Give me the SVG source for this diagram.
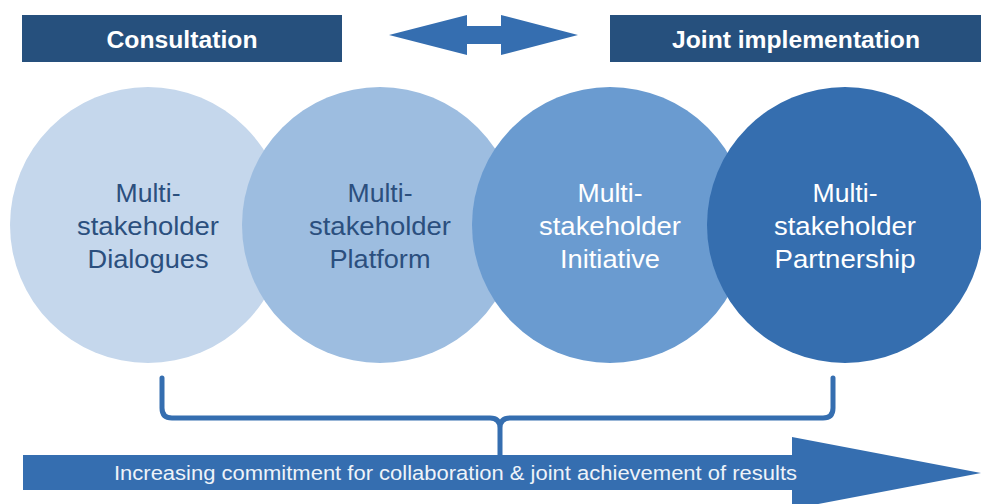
<svg xmlns="http://www.w3.org/2000/svg" width="981" height="504" viewBox="0 0 981 504">
<style>
.hdr{fill:#26507d}
.hdrt{font-family:"Liberation Sans",Arial,sans-serif;font-weight:bold;font-size:23px;fill:#ffffff;text-anchor:middle}
.ct{font-family:"Liberation Sans",Arial,sans-serif;font-size:25px;text-anchor:middle}
.dark{fill:#2b4f7e}
.light{fill:#ffffff}
.arrow{fill:#356eb0}
.brace{fill:none;stroke:#356eb0;stroke-width:5;stroke-linecap:round;stroke-linejoin:round}
.bt{font-family:"Liberation Sans",Arial,sans-serif;font-size:20px;fill:#eef3f9;text-anchor:start}
</style>
<rect width="981" height="504" fill="#ffffff"/>
<g id="consultation">
<rect class="hdr" x="22" y="15" width="320" height="47"/>
<text class="hdrt" x="182" y="48" textLength="151" lengthAdjust="spacingAndGlyphs">Consultation</text>
</g>
<g id="joint-implementation">
<rect class="hdr" x="610" y="15" width="371" height="47"/>
<text class="hdrt" x="796" y="48" textLength="248" lengthAdjust="spacingAndGlyphs">Joint implementation</text>
</g>
<g id="connectors">
<path id="double-arrow" class="arrow" d="M389,35 L467,15 L467,26 L501,26 L501,15 L578,35 L501,55 L501,44 L467,44 L467,55 Z"/>
<path id="brace" class="brace" d="M162,378 L162,408 Q162,418 172,418 L490,418 Q500,418 500,428 L500,456 M500,428 Q500,418 510,418 L823,418 Q833,418 833,408 L833,378"/>
</g>
<g id="dialogues">
<circle cx="148" cy="225" r="138" fill="#c5d7ec"/>
<text class="ct dark" x="148" y="202" textLength="65" lengthAdjust="spacingAndGlyphs">Multi-</text>
<text class="ct dark" x="148" y="235" textLength="142" lengthAdjust="spacingAndGlyphs">stakeholder</text>
<text class="ct dark" x="148" y="268" textLength="121" lengthAdjust="spacingAndGlyphs">Dialogues</text>
</g>
<g id="platform">
<circle cx="380" cy="225" r="138" fill="#9dbde0"/>
<text class="ct dark" x="380" y="202" textLength="65" lengthAdjust="spacingAndGlyphs">Multi-</text>
<text class="ct dark" x="380" y="235" textLength="142" lengthAdjust="spacingAndGlyphs">stakeholder</text>
<text class="ct dark" x="380" y="268" textLength="101" lengthAdjust="spacingAndGlyphs">Platform</text>
</g>
<g id="initiative">
<circle cx="610" cy="225" r="138" fill="#6a9bd0"/>
<text class="ct light" x="610" y="202" textLength="65" lengthAdjust="spacingAndGlyphs">Multi-</text>
<text class="ct light" x="610" y="235" textLength="142" lengthAdjust="spacingAndGlyphs">stakeholder</text>
<text class="ct light" x="610" y="268" textLength="100" lengthAdjust="spacingAndGlyphs">Initiative</text>
</g>
<g id="partnership">
<circle cx="845" cy="225" r="138" fill="#356eaf"/>
<text class="ct light" x="845" y="202" textLength="65" lengthAdjust="spacingAndGlyphs">Multi-</text>
<text class="ct light" x="845" y="235" textLength="142" lengthAdjust="spacingAndGlyphs">stakeholder</text>
<text class="ct light" x="845" y="268" textLength="141" lengthAdjust="spacingAndGlyphs">Partnership</text>
</g>
<g id="commitment-arrow">
<path class="arrow" d="M23,455 L792,455 L792,437 L981,473 L792,509 L792,490 L23,490 Z"/>
<text class="bt" x="114" y="480" textLength="683" lengthAdjust="spacingAndGlyphs">Increasing commitment for collaboration &amp; joint achievement of results</text>
</g>
</svg>
